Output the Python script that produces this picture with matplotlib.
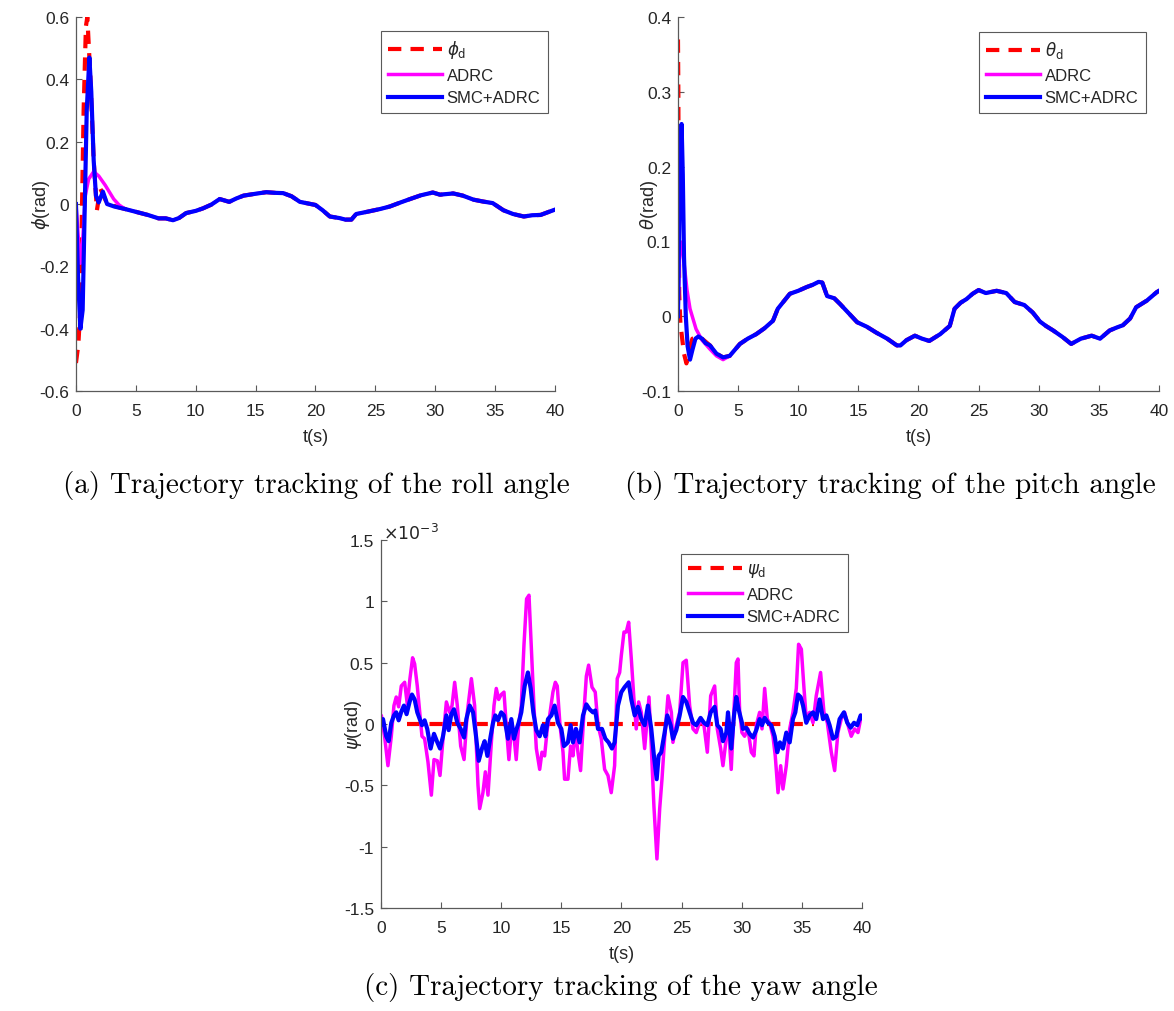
import matplotlib
matplotlib.use('Agg')
import matplotlib.pyplot as plt
from matplotlib.ticker import FuncFormatter

plt.rcParams['font.family'] = ['Liberation Sans', 'DejaVu Sans']
plt.rcParams['axes.unicode_minus'] = False

# ---------------- roll angle (a) ----------------
roll_tail_t = [3.2, 4.1, 5.2, 6.0, 6.9, 7.5, 8.1, 8.6, 9.2, 10.0, 10.6, 11.3, 12.0, 12.8, 13.4,
               14.0, 15.0, 15.9, 16.6, 17.3, 18.0, 18.7, 20.0, 20.6, 21.2, 22.0, 22.5, 23.0,
               23.4, 24.3, 25.4, 26.2, 27.1, 27.9, 28.8, 29.8, 30.4, 31.5, 32.3, 33.2, 34.0,
               34.8, 35.7, 36.5, 37.4, 38.1, 38.8, 39.5, 40.0]
roll_tail = [-0.008, -0.016, -0.027, -0.035, -0.046, -0.046, -0.052, -0.045, -0.029, -0.022,
             -0.014, -0.002, 0.016, 0.007, 0.018, 0.027, 0.033, 0.038, 0.036, 0.035, 0.025,
             0.007, -0.003, -0.02, -0.04, -0.045, -0.05, -0.05, -0.032, -0.025, -0.016, -0.008,
             0.005, 0.016, 0.028, 0.037, 0.03, 0.034, 0.027, 0.014, 0.008, 0.003, -0.02, -0.032,
             -0.04, -0.036, -0.035, -0.025, -0.018]

phi_d_t = [0, 0.2, 0.36, 0.5, 0.64, 0.83, 0.95, 1.2, 1.48, 1.75, 2.03, 2.5, 2.9]
phi_d = [-0.51, -0.45, -0.34, -0.02, 0.30, 0.57, 0.60, 0.41, 0.14, -0.02, 0.05, 0.01, -0.003]
phi_adrc_t = [0, 0.22, 0.37, 0.56, 0.78, 1.06, 1.48, 1.9, 2.45, 3.15, 3.6]
phi_adrc = [0, -0.12, -0.19, -0.12, 0.027, 0.08, 0.104, 0.09, 0.06, 0.016, -0.003]
phi_smc_t = [0, 0.17, 0.37, 0.56, 0.73, 0.9, 1.12, 1.28, 1.48, 1.67, 1.9, 2.25, 2.6]
phi_smc = [0, -0.23, -0.40, -0.34, -0.016, 0.30, 0.47, 0.36, 0.14, 0.027, 0.005, 0.04, 0.0]

# ---------------- pitch angle (b) ----------------
pitch_tail_t = [4.3, 5.15, 5.8, 6.5, 7.2, 7.9, 8.3, 8.8, 9.3, 10.0, 10.7, 11.2, 11.7, 12.0, 12.4,
                13.0, 13.5, 14.2, 14.9, 15.7, 16.5, 17.4, 18.2, 18.5, 19.0, 19.7, 20.3, 20.9,
                21.8, 22.6, 23.0, 23.5, 24.0, 24.5, 25.0, 25.6, 26.5, 27.3, 28.0, 28.8, 29.5,
                30.1, 30.6, 31.2, 32.0, 32.7, 33.5, 34.4, 35.1, 35.9, 36.5, 37.0, 37.6, 38.1,
                39.0, 39.8, 40.0]
pitch_tail = [-0.053, -0.037, -0.03, -0.024, -0.016, -0.006, 0.01, 0.02, 0.03, 0.034, 0.039,
              0.042, 0.046, 0.045, 0.027, 0.024, 0.016, 0.004, -0.008, -0.014, -0.022, -0.03,
              -0.039, -0.039, -0.032, -0.026, -0.03, -0.033, -0.024, -0.013, 0.01, 0.018, 0.023,
              0.03, 0.035, 0.031, 0.034, 0.031, 0.019, 0.015, 0.005, -0.007, -0.013, -0.019,
              -0.028, -0.037, -0.030, -0.026, -0.03, -0.019, -0.015, -0.012, -0.003, 0.012,
              0.021, 0.032, 0.034]

theta_d_t = [0, 0.03, 0.06, 0.1, 0.2, 0.35, 0.5, 0.7, 0.9, 1.2, 1.6, 2.0, 2.66, 3.2, 3.75]
theta_d = [0.37, 0.30, 0.15, 0.03, -0.01, -0.03, -0.05, -0.063, -0.045, -0.03, -0.028, -0.03,
           -0.039, -0.05, -0.055]
theta_adrc_t = [0, 0.15, 0.3, 0.5, 0.75, 1.0, 1.5, 2.0, 2.66, 3.2, 3.75]
theta_adrc = [0, 0.09, 0.099, 0.072, 0.035, 0.01, -0.017, -0.032, -0.044, -0.053, -0.058]
theta_smc_t = [0, 0.1, 0.2, 0.3, 0.4, 0.5, 0.65, 0.8, 1.0, 1.2, 1.45, 1.7, 2.0, 2.3, 2.66, 3.2, 3.75]
theta_smc = [0, 0.12, 0.22, 0.257, 0.19, 0.08, 0.0, -0.04, -0.058, -0.045, -0.03, -0.027, -0.03,
             -0.036, -0.039, -0.05, -0.055]

# ---------------- yaw angle (c), values in 1e-3 rad ----------------
psi_d_t = [2.2, 36.0]
psi_d = [0, 0]
psi_adrc_t = [0, 0.03, 0.3, 0.58, 0.86, 1.08, 1.27, 1.47, 1.69, 1.97, 2.19, 2.41, 2.63, 2.80, 3.02,
              3.22, 3.41, 3.63, 3.91, 4.19, 4.41, 4.69, 4.91, 5.16, 5.44, 5.71, 5.91, 6.13, 6.35,
              6.63, 6.91, 7.18, 7.52, 7.79, 8.07, 8.21, 8.48, 8.68, 8.90, 9.18, 9.40, 9.59, 9.79,
              10.0, 10.23, 10.42, 10.64, 10.89, 11.06, 11.25, 11.45, 11.67, 11.89, 12.11, 12.31,
              12.5, 12.72, 12.92, 13.2, 13.39, 13.61, 13.83, 14.03, 14.3, 14.5, 14.66, 14.89,
              15.14, 15.27, 15.55, 15.77, 15.97, 16.16, 16.38, 16.6, 16.88, 17.08, 17.27, 17.55,
              17.82, 18.05, 18.32, 18.6, 18.88, 19.15, 19.43, 19.65, 19.85, 19.99, 20.21, 20.4,
              20.6, 20.82, 21.04, 21.23, 21.43, 21.65, 21.93, 22.29, 22.48, 22.7, 22.95, 23.18,
              23.37, 23.59, 23.87, 24.15, 24.28, 24.56, 24.84, 25.12, 25.39, 25.67, 25.95, 26.22,
              26.58, 26.86, 27.14, 27.42, 27.75, 27.97, 28.25, 28.44, 28.64, 28.86, 29.13, 29.36,
              29.55, 29.69, 29.83, 30.02, 30.24, 30.52, 30.8, 31.02, 31.21, 31.49, 31.69, 31.91,
              32.13, 32.32, 32.6, 32.79, 33.02, 33.24, 33.43, 33.71, 33.99, 34.26, 34.54, 34.73,
              34.96, 35.18, 35.37, 35.65, 35.93, 36.2, 36.56, 36.84, 37.12, 37.45, 37.73, 38.0,
              38.28, 38.56, 38.84, 39.11, 39.39, 39.67, 39.95]
psi_adrc = [0.0, 0.07, -0.1, -0.34, -0.1, 0.15, 0.22, 0.14, 0.31, 0.34, 0.16, 0.37, 0.54, 0.49,
            0.31, 0.095, -0.1, -0.12, -0.31, -0.58, -0.29, -0.3, -0.42, -0.12, 0.18, 0.095, 0.15,
            0.34, 0.15, -0.18, -0.29, 0.095, 0.37, 0.15, -0.5, -0.69, -0.56, -0.39, -0.58, -0.15,
            0.15, 0.29, 0.2, 0.24, 0.26, -0.01, -0.29, 0.01, -0.1, -0.29, -0.01, 0.15, 0.64, 1.02,
            1.05, 0.64, 0.15, -0.2, -0.37, -0.23, -0.26, -0.04, 0.07, 0.26, 0.34, 0.31, -0.01,
            -0.23, -0.45, -0.45, -0.18, -0.26, -0.04, -0.23, -0.38, 0.095, 0.39, 0.48, 0.3, 0.26,
            -0.01, -0.12, -0.37, -0.42, -0.56, -0.34, 0.37, 0.42, 0.56, 0.75, 0.75, 0.83, 0.53,
            0.2, -0.04, 0.18, 0.095, -0.2, 0.22, -0.18, -0.67, -1.1, -0.69, -0.45, -0.12, 0.23,
            0.095, -0.15, -0.01, 0.095, 0.5, 0.52, 0.15, -0.04, -0.07, 0.04, -0.01, -0.23, 0.23,
            0.31, -0.04, -0.2, -0.34, -0.18, 0.04, -0.37, 0.12, 0.5, 0.53, 0.1, -0.07, -0.1,
            -0.04, -0.23, -0.26, -0.01, 0.095, -0.04, 0.29, 0.04, 0.01, -0.1, -0.26, -0.56, -0.34,
            -0.53, -0.34, -0.04, 0.095, 0.29, 0.65, 0.61, 0.29, 0.04, 0.095, 0.01, 0.23, 0.42,
            0.095, 0.01, -0.23, -0.38, -0.07, 0.04, 0.095, -0.01, -0.1, -0.04, -0.07, 0.07]
psi_smc_t = [0, 0.17, 0.44, 0.64, 0.86, 1.08, 1.27, 1.47, 1.69, 1.91, 2.13, 2.38, 2.58, 2.80, 3.02,
             3.22, 3.41, 3.63, 3.85, 4.13, 4.41, 4.69, 4.91, 5.16, 5.44, 5.63, 5.85, 6.07, 6.35,
             6.63, 6.91, 7.10, 7.38, 7.66, 7.93, 8.13, 8.40, 8.62, 8.85, 9.12, 9.32, 9.51, 9.73,
             10.0, 10.23, 10.56, 10.84, 11.06, 11.25, 11.45, 11.67, 11.95, 12.22, 12.45, 12.67,
             12.92, 13.2, 13.47, 13.67, 13.89, 14.17, 14.44, 14.72, 15.0, 15.22, 15.55, 15.77,
             15.97, 16.22, 16.52, 16.8, 17.08, 17.35, 17.63, 17.82, 18.05, 18.38, 18.66, 18.93,
             19.21, 19.43, 19.71, 19.99, 20.26, 20.6, 20.82, 21.1, 21.37, 21.65, 21.93, 22.2,
             22.48, 22.7, 22.93, 23.09, 23.31, 23.59, 23.81, 24.09, 24.28, 24.56, 24.84, 25.12,
             25.39, 25.67, 25.95, 26.22, 26.58, 26.86, 27.14, 27.42, 27.75, 27.97, 28.25, 28.44,
             28.72, 28.86, 29.13, 29.36, 29.55, 29.74, 30.02, 30.1, 30.38, 30.66, 30.94, 31.21,
             31.49, 31.69, 31.91, 32.18, 32.46, 32.74, 32.96, 33.18, 33.43, 33.71, 33.99, 34.26,
             34.46, 34.68, 34.9, 35.1, 35.37, 35.65, 35.93, 36.2, 36.48, 36.76, 37.04, 37.31,
             37.59, 37.87, 38.14, 38.5, 38.78, 39.06, 39.34, 39.61, 39.89, 40.0]
psi_smc = [0.0, 0.04, -0.1, -0.14, 0.01, 0.07, 0.095, 0.03, 0.1, 0.15, 0.08, 0.18, 0.24, 0.2,
           0.095, 0.04, -0.01, 0.03, -0.04, -0.2, -0.08, -0.15, -0.2, -0.1, 0.07, -0.05, 0.08,
           0.12, 0.01, -0.04, -0.11, 0.04, 0.15, 0.095, -0.12, -0.3, -0.2, -0.14, -0.26, -0.1,
           0.01, 0.07, 0.03, 0.095, 0.07, -0.12, 0.04, -0.12, -0.05, 0.01, 0.095, 0.31, 0.42,
           0.29, 0.095, -0.05, -0.1, -0.01, -0.1, 0.04, 0.07, 0.15, 0.01, -0.04, -0.18, -0.15,
           -0.01, -0.15, -0.04, -0.15, 0.07, 0.16, 0.12, 0.095, 0.11, -0.04, -0.04, -0.12, -0.15,
           -0.2, -0.15, 0.15, 0.26, 0.3, 0.34, 0.2, 0.07, 0.14, 0.04, -0.01, 0.15, -0.04, -0.26,
           -0.45, -0.26, -0.23, -0.07, 0.07, -0.01, -0.12, -0.05, 0.07, 0.22, 0.18, 0.095, 0.01,
           -0.01, 0.05, 0.01, -0.01, 0.095, 0.14, -0.01, -0.04, -0.14, -0.07, 0.095, -0.2, 0.07,
           0.22, 0.12, 0.01, -0.04, -0.03, -0.08, -0.11, -0.05, 0.04, -0.01, 0.05, 0.01, -0.01,
           -0.1, -0.23, -0.15, -0.2, -0.07, -0.15, 0.04, 0.095, 0.24, 0.22, 0.15, 0.01, 0.07,
           0.095, 0.04, 0.2, 0.04, 0.07, -0.01, -0.12, -0.1, 0.04, 0.095, 0.01, -0.03, 0.01,
           -0.01, 0.07, 0.05]

t_ticks = [0, 5, 10, 15, 20, 25, 30, 35, 40]

RED, MAG, BLUE = '#FF0000', '#FF00FF', '#0000FF'
TXT = '#262626'
AXC = '#5a5a5a'
FS = 12.5


def style_axes(ax, ylim, yticks, ylabel, label_x):
    ax.set_xlim(0, 40)
    ax.set_ylim(*ylim)
    ax.set_xticks(t_ticks)
    ax.set_yticks(yticks)
    ax.yaxis.set_major_formatter(FuncFormatter(lambda v, p: f'{v:g}'))
    for s in ['top', 'right']:
        ax.spines[s].set_visible(False)
    for s in ['left', 'bottom']:
        ax.spines[s].set_color(AXC)
        ax.spines[s].set_linewidth(0.9)
    ax.tick_params(direction='in', length=4, width=0.8, color=AXC,
                   labelsize=FS, labelcolor=TXT)
    ax.tick_params(axis='x', pad=8.5)
    ax.tick_params(axis='y', pad=5)
    ax.set_xlabel('t(s)', fontsize=FS + 0.5, color=TXT, labelpad=7)
    ax.set_ylabel(ylabel, fontsize=FS + 0.5, color=TXT)
    ax.yaxis.set_label_coords(label_x, 0.5)


def draw(ax, d_t, d, a_t, a, s_t, s, dlabel, anchor):
    ax.plot(d_t, d, color=RED, lw=3.0, dashes=(3.2, 2.2), label=dlabel)
    ax.plot(a_t, a, color=MAG, lw=2.5, label='ADRC')
    ax.plot(s_t, s, color=BLUE, lw=3.0, label='SMC+ADRC')
    leg = ax.legend(loc='upper right', bbox_to_anchor=anchor, borderaxespad=0,
                    fontsize=12, handlelength=3.2, handletextpad=0.3,
                    labelspacing=0.45, borderpad=0.45, fancybox=False, framealpha=1)
    leg.get_frame().set_edgecolor(AXC)
    leg.get_frame().set_linewidth(0.8)
    for txt in leg.get_texts():
        txt.set_color(TXT)


fig = plt.figure(figsize=(11.74, 10.12), dpi=100)
ax_a = fig.add_axes([0.0647, 0.6126, 0.408, 0.3696])
ax_b = fig.add_axes([0.5775, 0.6126, 0.4097, 0.3696])
ax_c = fig.add_axes([0.3245, 0.1018, 0.4097, 0.3636])

draw(ax_a, phi_d_t + roll_tail_t[1:], phi_d + roll_tail[1:],
     phi_adrc_t + roll_tail_t[1:], phi_adrc + roll_tail[1:],
     phi_smc_t + roll_tail_t, phi_smc + roll_tail, r'$\phi_\mathrm{d}$', (0.985, 0.963))
style_axes(ax_a, (-0.6, 0.6), [-0.6, -0.4, -0.2, 0, 0.2, 0.4, 0.6], r'$\phi$(rad)', -0.05)

draw(ax_b, theta_d_t + pitch_tail_t, theta_d + pitch_tail,
     theta_adrc_t + pitch_tail_t, theta_adrc + pitch_tail,
     theta_smc_t + pitch_tail_t, theta_smc + pitch_tail, r'$\theta_\mathrm{d}$', (0.973, 0.96))
style_axes(ax_b, (-0.1, 0.4), [-0.1, 0, 0.1, 0.2, 0.3, 0.4], r'$\theta$(rad)', -0.037)

draw(ax_c, psi_d_t, psi_d, psi_adrc_t, psi_adrc, psi_smc_t, psi_smc,
     r'$\psi_\mathrm{d}$', (0.971, 0.962))
style_axes(ax_c, (-1.5, 1.5), [-1.5, -1, -0.5, 0, 0.5, 1, 1.5], r'$\psi$(rad)', -0.035)
ax_c.text(0.005, 0.995, r'$\times10^{-3}$', transform=ax_c.transAxes, ha='left', va='bottom',
          fontsize=FS, color=TXT)

cap = dict(fontsize=21, family='cmr10', ha='center', va='center', color='black')
fig.text(316 / 1174, 1 - 486 / 1012, '(a) Trajectory tracking of the roll angle', **cap)
fig.text(890 / 1174, 1 - 486 / 1012, '(b) Trajectory tracking of the pitch angle', **cap)
fig.text(621 / 1174, 1 - 988 / 1012, '(c) Trajectory tracking of the yaw angle', **cap)

fig.savefig('out.png', dpi=100)
